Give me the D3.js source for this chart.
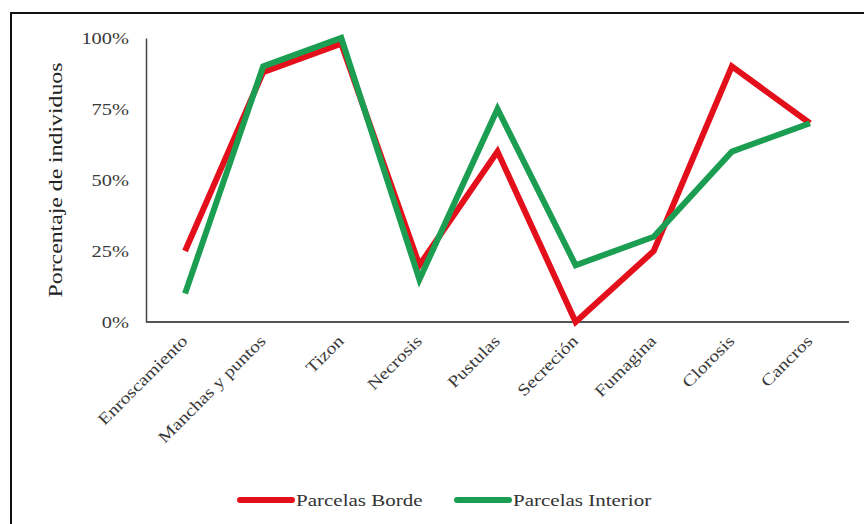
<!DOCTYPE html>
<html>
<head>
<meta charset="utf-8">
<script src="https://cdn.jsdelivr.net/npm/d3@7"></script>
<style>
  body { margin: 0; background: #fff; }
  svg { display: block; font-family: "Liberation Serif", "Times New Roman", serif; }
</style>
</head>
<body>
<svg id="chart" width="864" height="524"></svg>
<script>
var categories = ["Enroscamiento", "Manchas y puntos", "Tizon", "Necrosis", "Pustulas",
                  "Secreción", "Fumagina", "Clorosis", "Cancros"];
var borde = [25, 88, 98, 20, 60, 0, 25, 90, 70];
var interior = [10, 90, 100, 15, 75, 20, 30, 60, 70];
var yTicks = [0, 25, 50, 75, 100];
var seriesNames = ["Parcelas Borde", "Parcelas Interior"];
var seriesColors = ["#e3101b", "#1c9e52"];

var svg = d3.select("#chart");
var padL = 146, padR = 849, padT = 38, padB = 322;

// the reference font runs wider than Times, so widen the glyphs a bit
function widen(sel, f) {
  sel.each(function () {
    var w = this.getComputedTextLength();
    d3.select(this).attr("textLength", w * f).attr("lengthAdjust", "spacingAndGlyphs");
  });
}

// frame (only top and left edges show in the reference)
svg.append("line").attr("x1", 11).attr("x2", 864).attr("y1", 13).attr("y2", 13)
  .attr("stroke", "#111").attr("stroke-width", 2);
svg.append("line").attr("x1", 11).attr("x2", 11).attr("y1", 12).attr("y2", 524)
  .attr("stroke", "#111").attr("stroke-width", 2);

var x = d3.scalePoint().domain(categories).range([padL, padR]).padding(0.5);
var y = d3.scaleLinear().domain([0, 100]).range([padB, padT]);

var yAxis = svg.append("g")
  .attr("transform", "translate(" + padL + ",0)")
  .call(d3.axisLeft(y).tickValues(yTicks).tickSize(0).tickPadding(17)
    .tickFormat(function (d) { return d + "%"; }));
yAxis.select(".domain").attr("stroke", "#444").attr("stroke-width", 1.5);
yAxis.selectAll("text").attr("font-size", 17).attr("fill", "#3a3a3a")
  .attr("font-family", "Liberation Serif").call(widen, 1.2);

var xAxis = svg.append("g")
  .attr("transform", "translate(0," + padB + ")")
  .call(d3.axisBottom(x).tickSize(0).tickPadding(0));
xAxis.select(".domain").attr("d", "M" + padL + ",0H" + padR)
  .attr("stroke", "#555").attr("stroke-width", 2);
xAxis.selectAll("text")
  .attr("font-size", 16.5).attr("fill", "#3a3a3a").attr("font-family", "Liberation Serif")
  .attr("text-anchor", "end")
  .attr("dy", 0)
  .attr("transform", "translate(3,20) rotate(-45)")
  .call(widen, 1.2);

svg.append("text")
  .attr("transform", "translate(62," + ((padT + padB) / 2) + ") rotate(-90)")
  .attr("text-anchor", "middle")
  .attr("font-size", 19).attr("fill", "#222")
  .text("Porcentaje de individuos")
  .call(widen, 1.25);

var line = d3.line()
  .x(function (d, i) { return x(categories[i]); })
  .y(function (d) { return y(d); });

[borde, interior].forEach(function (s, i) {
  svg.append("path")
    .attr("d", line(s))
    .attr("fill", "none")
    .attr("stroke", seriesColors[i])
    .attr("stroke-width", 6)
    .attr("stroke-linejoin", "miter");
});

// legend
var legendX = [240, 457];
seriesNames.forEach(function (name, i) {
  var g = svg.append("g").attr("transform", "translate(" + legendX[i] + ",500)");
  g.append("line").attr("x1", 0).attr("x2", 52).attr("y1", 0).attr("y2", 0)
    .attr("stroke", seriesColors[i]).attr("stroke-width", 6)
    .attr("stroke-linecap", "round");
  g.append("text").attr("x", 56).attr("y", 6)
    .attr("font-size", 17.5).attr("fill", "#333").text(name)
    .call(widen, 1.2);
});
</script>
</body>
</html>
